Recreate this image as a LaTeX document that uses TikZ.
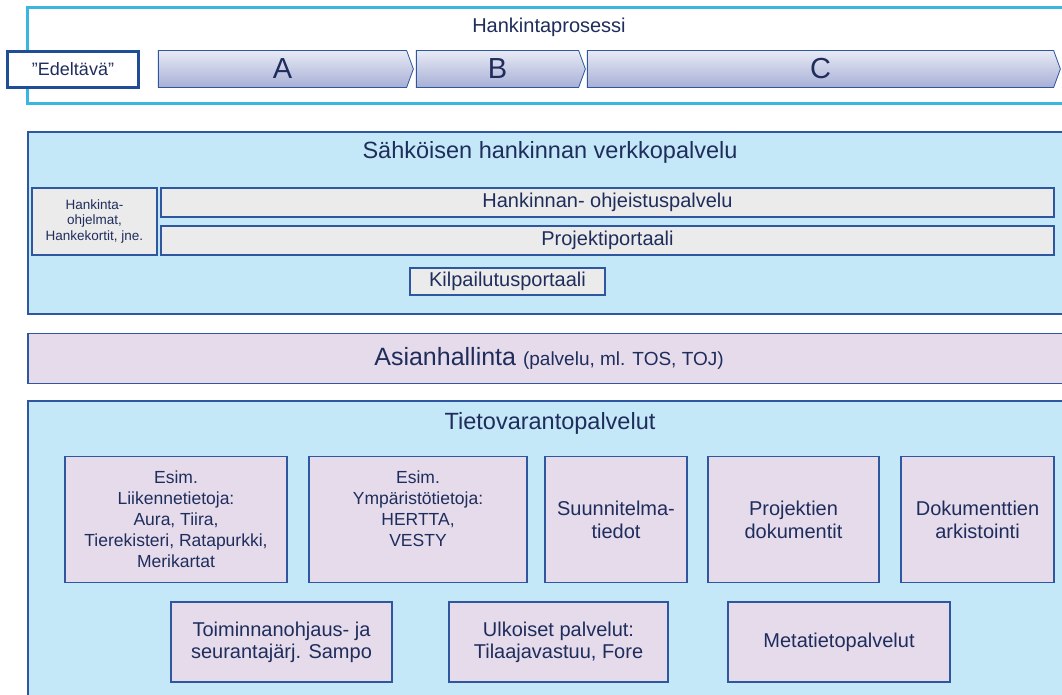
\documentclass[tikz,border=0pt]{standalone}
\usepackage{fontspec}
\setmainfont{Liberation Sans}
\usetikzlibrary{shapes.symbols}

\definecolor{framecyan}{HTML}{3BB6E3}
\definecolor{edgeblue}{HTML}{2E57A0}
\definecolor{darkedge}{HTML}{1F4E96}
\definecolor{paleblue}{HTML}{C5E8F9}
\definecolor{lilac}{HTML}{E5DBEB}
\definecolor{bargray}{HTML}{EBEBEB}
\definecolor{inknavy}{HTML}{1F2D5C}
\definecolor{phasetop}{HTML}{E8EAF5}
\definecolor{phasebot}{HTML}{A7AFD6}

\tikzset{
  every node/.style={text=inknavy},
  panel/.style={draw=edgeblue,line width=1.3pt,fill=paleblue,minimum width=1042pt},
  barbox/.style={draw=edgeblue,line width=1.3pt,fill=bargray,inner sep=0pt,
    font=\fontsize{20}{23}\selectfont},
  infobox/.style={draw=edgeblue,line width=1.3pt,fill=lilac,align=center,inner sep=0pt},
  phase/.style={signal,signal to=east,signal pointer angle=140,draw=edgeblue,
    line width=0.8pt,top color=phasetop,bottom color=phasebot,minimum height=37pt,
    inner sep=0pt,font=\fontsize{29}{29}\selectfont},
  heading/.style={font=\fontsize{23.5}{27}\selectfont}
}

\begin{document}
\begin{tikzpicture}[x=1pt,y=-1pt]
\useasboundingbox (0,0) rectangle (1062,695);

% hankintaprosessi
\fill[white] (27,8) rectangle (1070,104);
\draw[framecyan,line width=3pt] (1070,8) -- (27,8) -- (27,104) -- (1070,104);
\node (proc) at (549,27) {\fontsize{20}{23}\selectfont Hankintaprosessi};
\node[draw=darkedge,line width=3pt,fill=white,minimum width=131pt,minimum height=36pt,
  inner sep=0pt,font=\fontsize{18}{20}\selectfont] (edel) at (73,69.5) {"Edeltävä"};
\node[phase,minimum width=255pt] (pa) at (282.5,69) {A};
\node[phase,minimum width=169pt] (pb) at (497.5,69) {B};
\node[phase,minimum width=473pt] (pc) at (820.5,69) {C};

% verkkopalvelu
\node[panel,minimum height=182pt] (sahko) at (549,223) {};
\node[heading] (sahkotitle) at (550,152) {Sähköisen hankinnan verkkopalvelu};
\node[barbox,align=center,minimum width=125pt,minimum height=67pt,
  font=\fontsize{13.5}{15.5}\selectfont] (hank) at (94.5,221.5)
  {Hankinta-\\ohjelmat,\\Hankekortit, jne.};
\node[barbox,minimum width=893pt,minimum height=29pt] (ohje) at (607.5,202.5)
  {Hankinnan- ohjeistuspalvelu};
\node[barbox,minimum width=893pt,minimum height=29pt] (portaali) at (607.5,240.5)
  {Projektiportaali};
\node[barbox,minimum width=195pt,minimum height=27pt] (kilp) at (507.5,281.5)
  {Kilpailutusportaali};

% asianhallinta
\node[panel,fill=lilac,minimum height=50pt] (asia) at (549,358.5)
  {\fontsize{25}{28}\selectfont Asianhallinta \fontsize{19}{22}\selectfont(palvelu, ml. TOS, TOJ)};

% tietovarantopalvelut
\node[panel,minimum height=320pt] (tieto) at (549,561) {};
\node[heading] (tietotitle) at (550,423) {Tietovarantopalvelut};

\node[infobox,minimum width=222pt,minimum height=126pt,font=\fontsize{17.5}{21}\selectfont]
  (liik) at (176,519.5) {Esim.\\Liikennetietoja:\\Aura, Tiira,\\Tierekisteri, Ratapurkki,\\Merikartat};
\node[infobox,minimum width=218pt,minimum height=126pt,font=\fontsize{17.5}{21}\selectfont]
  (ymp) at (418,519.5) {Esim.\\Ympäristötietoja:\\HERTTA,\\VESTY\\~};
\node[infobox,minimum width=142pt,minimum height=126pt,font=\fontsize{20}{23}\selectfont]
  (suun) at (616,519.5) {Suunnitelma-\\tiedot};
\node[infobox,minimum width=171pt,minimum height=126pt,font=\fontsize{20}{23}\selectfont]
  (pdok) at (793.5,519.5) {Projektien\\dokumentit};
\node[infobox,minimum width=153pt,minimum height=126pt,font=\fontsize{20}{23}\selectfont]
  (arki) at (977.5,519.5) {Dokumenttien\\arkistointi};

\node[infobox,minimum width=221pt,minimum height=80pt,font=\fontsize{20}{22}\selectfont]
  (toim) at (281.5,642) {Toiminnanohjaus- ja\\seurantajärj. Sampo};
\node[infobox,minimum width=219pt,minimum height=80pt,font=\fontsize{20}{22}\selectfont]
  (ulko) at (558.5,642) {Ulkoiset palvelut:\\Tilaajavastuu, Fore};
\node[infobox,minimum width=222pt,minimum height=80pt,font=\fontsize{20}{22}\selectfont]
  (meta) at (839,642) {Metatietopalvelut};
\end{tikzpicture}
\end{document}
